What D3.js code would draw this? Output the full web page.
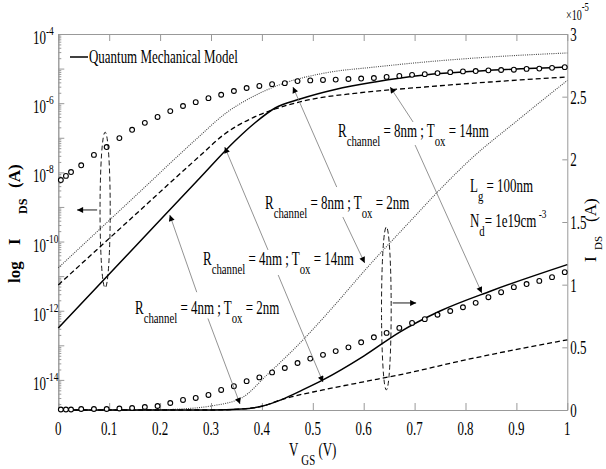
<html lang="en">
<head>
<meta charset="UTF-8">
<title>Quantum mechanical model I-V</title>
<script src="https://cdn.jsdelivr.net/npm/d3@7"></script>
<style>
  body { margin: 0; background: #fff; }
  .axis path, .axis line { stroke: #999; stroke-width: 1px; }
  .curve { fill: none; stroke: #000; }
  .solid { stroke-width: 1.5px; }
  .dashed { stroke-width: 1.3px; stroke-dasharray: 5,3; }
  .dotted { stroke: #444; stroke-width: 1.1px; stroke-dasharray: 1,1.2; }
  .pointer { stroke: #777; stroke-width: 0.8px; fill: none; }
  .oval { fill: none; stroke: #000; stroke-width: 0.9px; stroke-dasharray: 5,3; }
  .mark { fill: #fff; stroke: #000; stroke-width: 1.1px; }
</style>
</head>
<body>
<svg id="svg"></svg>
<script>
var WIDTH = 606, HEIGHT = 469;
var LEFT = 58.3, RIGHT = 567.3, TOP = 34, BOTTOM = 410;
var SERIF = "'Liberation Serif', 'DejaVu Serif', serif";
var SX = 0.72;

// log axis curves (A)
var vLogSolid = [0, 0.141, 0.278, 0.347, 0.386, 0.426, 0.475, 0.544, 0.622, 0.72, 0.828, 1.0];
var iLogSolid = [3.18e-13, 5.0e-11, 6.89e-9, 8.09e-8, 2.68e-7, 7.26e-7, 1.32e-6, 2.49e-6, 4.1e-6, 6.53e-6, 8.53e-6, 1.11e-5];
var vLogDotted = [0, 0.141, 0.278, 0.327, 0.377, 0.439, 0.524, 0.622, 0.72, 0.848, 1.0];
var iLogDotted = [1.73e-11, 1.49e-9, 1.13e-7, 4.88e-7, 1.41e-6, 3.59e-6, 7.46e-6, 1.11e-5, 1.55e-5, 2.16e-5, 2.83e-5];
var vLogDashed = [0, 0.141, 0.278, 0.327, 0.377, 0.426, 0.491, 0.589, 0.72, 0.848, 1.0];
var iLogDashed = [5.57e-12, 4.36e-10, 2.98e-8, 1.29e-7, 3.49e-7, 6.79e-7, 1.24e-6, 1.97e-6, 2.94e-6, 4.1e-6, 5.71e-6];

// linear axis curves (x 1e-5 A)
var vLinSolid = [0, 0.3, 0.36, 0.4, 0.44, 0.48, 0.52, 0.6, 0.67, 0.75, 0.85, 1.0];
var iLinSolid = [0, 0, 0.008, 0.03, 0.085, 0.16, 0.24, 0.43, 0.62, 0.79, 0.95, 1.16];
var vLinDashed = [0, 0.3, 0.36, 0.4, 0.44, 0.52, 0.6, 0.67, 0.8, 1.0];
var iLinDashed = [0, 0, 0.008, 0.03, 0.085, 0.16, 0.225, 0.28, 0.40, 0.56];
var vLinDotted = [0, 0.2, 0.24, 0.3, 0.36, 0.41, 0.475, 0.535, 0.61, 0.69, 0.75, 0.81, 0.905, 1.0];
var iLinDotted = [0, 0.002, 0.008, 0.032, 0.096, 0.28, 0.535, 0.80, 1.15, 1.50, 1.76, 2.0, 2.32, 2.63];

// circle markers (reference data)
var vMarks = [0.005, 0.015, 0.025, 0.045, 0.07, 0.095, 0.12, 0.145, 0.17, 0.195, 0.22, 0.245, 0.27, 0.295, 0.32, 0.345, 0.37, 0.395, 0.42, 0.445, 0.47, 0.495, 0.52, 0.545, 0.57, 0.595, 0.62, 0.645, 0.67, 0.695, 0.72, 0.745, 0.77, 0.795, 0.82, 0.845, 0.87, 0.895, 0.92, 0.945, 0.97, 0.995];
var iMarksLog = [6.0e-9, 7.9e-9, 1.02e-8, 1.6e-8, 3.2e-8, 5.4e-8, 9.8e-8, 1.7e-7, 2.7e-7, 4.0e-7, 5.9e-7, 8.3e-7, 1.07e-6, 1.4e-6, 1.75e-6, 2.25e-6, 2.75e-6, 3.15e-6, 3.55e-6, 3.8e-6, 4.35e-6, 4.55e-6, 4.7e-6, 4.8e-6, 5.0e-6, 5.15e-6, 5.35e-6, 5.75e-6, 6.15e-6, 6.6e-6, 6.9e-6, 7.4e-6, 7.9e-6, 8.3e-6, 8.5e-6, 8.9e-6, 9.1e-6, 9.3e-6, 9.8e-6, 1.0e-5, 1.05e-5, 1.1e-5];
var iMarksLin = [0.004, 0.004, 0.004, 0.008, 0.008, 0.008, 0.012, 0.016, 0.024, 0.032, 0.056, 0.08, 0.096, 0.12, 0.16, 0.19, 0.23, 0.26, 0.30, 0.335, 0.375, 0.41, 0.44, 0.47, 0.50, 0.54, 0.58, 0.615, 0.655, 0.695, 0.725, 0.76, 0.79, 0.82, 0.855, 0.90, 0.94, 0.98, 1.005, 1.03, 1.06, 1.10];

// ticks
var xTicks = [0, 0.1, 0.2, 0.3, 0.4, 0.5, 0.6, 0.7, 0.8, 0.9, 1];
var xTickLabels = ["0", "0.1", "0.2", "0.3", "0.4", "0.5", "0.6", "0.7", "0.8", "0.9", "1"];
var logExponents = [-4, -6, -8, -10, -12, -14];
var linTicks = [0, 0.5, 1, 1.5, 2, 2.5, 3];
var linTickLabels = ["0", "0.5", "1", "1.5", "2", "2.5", "3"];

// annotation pointers [V, I(x1e-5)] from -> to
var pointers = [
  [[0.272, 0.94], [0.219, 1.556]],
  [[0.294, 0.73], [0.357, 0.048]],
  [[0.412, 1.277], [0.327, 2.098]],
  [[0.432, 1.077], [0.520, 0.223]],
  [[0.547, 1.779], [0.461, 2.577]],
  [[0.559, 1.540], [0.602, 1.173]],
  [[0.697, 2.298], [0.652, 2.577]],
  [[0.701, 2.114], [0.832, 0.934]]
];
var ovals = [[[0.082, 0.102], [0.975, 2.217]], [[0.635, 0.654], [0.16, 1.46]]];
var sideArrows = [[[0.0763, 1.596], [0.037, 1.596]], [[0.657, 0.854], [0.703, 0.854]]];

var svg = d3.select("#svg").attr("width", WIDTH).attr("height", HEIGHT);

var xScale = d3.scaleLinear().domain([0, 1]).range([LEFT, RIGHT]);
var yLog = d3.scaleLog().domain([Math.pow(10, -14.87), 1e-4]).range([BOTTOM, TOP]);
var yLin = d3.scaleLinear().domain([0, 3]).range([BOTTOM, TOP]);

svg.append("defs").append("marker")
   .attr("id", "head")
   .attr("viewBox", "0 0 10 10")
   .attr("refX", 10).attr("refY", 5)
   .attr("markerWidth", 7).attr("markerHeight", 6)
   .attr("markerUnits", "userSpaceOnUse")
   .attr("orient", "auto")
   .append("path").attr("d", "M0,0 L10,5 L0,10 z").attr("fill", "#000");

// axes (ticks point inward)
svg.append("g").attr("class", "axis").attr("transform", "translate(0," + BOTTOM + ")")
   .call(d3.axisBottom(xScale).tickValues(xTicks).tickSizeInner(-7).tickSizeOuter(0).tickFormat(""));
svg.append("g").attr("class", "axis").attr("transform", "translate(0," + TOP + ")")
   .call(d3.axisTop(xScale).tickValues(xTicks).tickSizeInner(-7).tickSizeOuter(0).tickFormat(""));

var majors = [], minors = [];
for (var e = -15; e <= -4; e++) {
  if (e >= -14) majors.push(Math.pow(10, e));
  for (var m = 2; m <= 9 && e < -4; m++) {
    var v = m * Math.pow(10, e);
    if (v >= yLog.domain()[0]) minors.push(v);
  }
}
svg.append("g").attr("class", "axis").attr("transform", "translate(" + LEFT + ",0)")
   .call(d3.axisLeft(yLog).tickValues(minors).tickSizeInner(-3).tickSizeOuter(0).tickFormat(""));
svg.append("g").attr("class", "axis").attr("transform", "translate(" + LEFT + ",0)")
   .call(d3.axisLeft(yLog).tickValues(majors).tickSizeInner(-6).tickSizeOuter(0).tickFormat(""));
svg.append("g").attr("class", "axis").attr("transform", "translate(" + RIGHT + ",0)")
   .call(d3.axisRight(yLin).tickValues(linTicks).tickSizeInner(-5).tickSizeOuter(0).tickFormat(""));
svg.selectAll(".axis text").remove();

// text helper: parts = [[string, "n"|"sub"|"sup", size?]]
function rich(x, y, parts, size) {
  size = size || 18;
  var t = svg.append("text")
     .attr("transform", "translate(" + x + "," + y + ") scale(" + SX + ",1)")
     .attr("font-family", SERIF).attr("font-size", size)
     .attr("xml:space", "preserve").style("white-space", "pre");
  var shift = 0;
  parts.forEach(function(p) {
    var target = p[1] === "sub" ? 9 : (p[1] === "sup" ? -9 : 0);
    var sp = t.append("tspan").attr("dy", target - shift).text(p[0]);
    if (p[1] !== "n") sp.attr("font-size", p[2] || 14);
    shift = target;
  });
  return t;
}

xTicks.forEach(function(d, i) {
  rich(xScale(d), 435, [[xTickLabels[i], "n"]]).attr("text-anchor", "middle");
});
logExponents.forEach(function(e) {
  var y = yLog(Math.pow(10, e));
  rich(33, y + 10, [["10", "n"], [String(e), "sup", 13]]);
});
linTicks.forEach(function(d, i) {
  rich(RIGHT + 3, yLin(d) + 7, [[linTickLabels[i], "n"]]);
});
rich(566, 20, [["\u00d710", "n"], ["-5", "sup", 12]], 14);

// curves
function lineOf(xs, ys, yScale) {
  return d3.line().curve(d3.curveMonotoneX)
           .x(function(d) { return xScale(d[0]); })
           .y(function(d) { return yScale(d[1]); })(d3.zip(xs, ys));
}
svg.append("path").attr("class", "curve dotted").attr("d", lineOf(vLogDotted, iLogDotted, yLog));
svg.append("path").attr("class", "curve dashed").attr("d", lineOf(vLogDashed, iLogDashed, yLog));
svg.append("path").attr("class", "curve solid").attr("d", lineOf(vLogSolid, iLogSolid, yLog));
svg.append("path").attr("class", "curve dotted").attr("d", lineOf(vLinDotted, iLinDotted, yLin));
svg.append("path").attr("class", "curve dashed").attr("d", lineOf(vLinDashed, iLinDashed, yLin));
svg.append("path").attr("class", "curve solid").attr("d", lineOf(vLinSolid, iLinSolid, yLin));

svg.append("g").selectAll("circle").data(d3.zip(vMarks, iMarksLog)).enter().append("circle")
   .attr("class", "mark").attr("r", 2.4)
   .attr("cx", function(d) { return xScale(d[0]); })
   .attr("cy", function(d) { return yLog(d[1]); });
svg.append("g").selectAll("circle").data(d3.zip(vMarks, iMarksLin)).enter().append("circle")
   .attr("class", "mark").attr("r", 2.4)
   .attr("cx", function(d) { return xScale(d[0]); })
   .attr("cy", function(d) { return yLin(d[1]); });

// dashed ovals around the two curve groups
ovals.forEach(function(o) {
  var x0 = xScale(o[0][0]), x1 = xScale(o[0][1]);
  var y0 = yLin(o[1][1]), y1 = yLin(o[1][0]);
  svg.append("ellipse").attr("class", "oval")
     .attr("cx", (x0 + x1) / 2).attr("cy", (y0 + y1) / 2)
     .attr("rx", (x1 - x0) / 2).attr("ry", (y1 - y0) / 2);
});
sideArrows.forEach(function(a) {
  svg.append("line").attr("stroke", "#000").attr("stroke-width", 0.9)
     .attr("x1", xScale(a[0][0])).attr("y1", yLin(a[0][1]))
     .attr("x2", xScale(a[1][0])).attr("y2", yLin(a[1][1]))
     .attr("marker-end", "url(#head)");
});
pointers.forEach(function(a) {
  svg.append("line").attr("class", "pointer")
     .attr("x1", xScale(a[0][0])).attr("y1", yLin(a[0][1]))
     .attr("x2", xScale(a[1][0])).attr("y2", yLin(a[1][1]))
     .attr("marker-end", "url(#head)");
});

// legend
svg.append("line").attr("x1", 70).attr("x2", 88).attr("y1", 57).attr("y2", 57)
   .attr("stroke", "#000").attr("stroke-width", 1.5);
rich(89, 63, [["Quantum Mechanical Model", "n"]]);

// labels
rich(338, 137, [["R", "n"], ["channel", "sub", 15], [" = 8nm ; T", "n"], ["ox", "sub", 15], [" = 14nm", "n"]]);
rich(265, 209, [["R", "n"], ["channel", "sub", 15], [" = 8nm ; T", "n"], ["ox", "sub", 15], [" = 2nm", "n"]]);
rich(203, 265, [["R", "n"], ["channel", "sub", 15], [" = 4nm ; T", "n"], ["ox", "sub", 15], [" = 14nm", "n"]]);
rich(135, 314, [["R", "n"], ["channel", "sub", 15], [" = 4nm ; T", "n"], ["ox", "sub", 15], [" = 2nm", "n"]]);
rich(470, 192, [["L", "n"], ["g", "sub", 15], [" = 100nm", "n"]]);
rich(470, 227, [["N", "n"], ["d", "sub", 15], ["= 1e19cm", "n"], [" -3", "sup", 13]]);
rich(289, 456, [["V ", "n"], ["GS", "sub", 15], [" (V)", "n"]]);

// rotated axis titles
function vtext(x, y, s, size, weight) {
  svg.append("text").attr("transform", "translate(" + x + "," + y + ") rotate(-90)")
     .attr("font-family", SERIF).attr("font-size", size).attr("font-weight", weight || "normal")
     .text(s);
}
vtext(20, 283, "log", 17, "bold");
vtext(20, 245, "I", 17, "bold");
vtext(27, 214, "DS", 12, "bold");
vtext(20, 188, "(A)", 17, "bold");
vtext(596, 262, "I", 17);
vtext(602, 250, "DS", 11);
vtext(596, 222, "(A)", 17);
</script>
</body>
</html>
